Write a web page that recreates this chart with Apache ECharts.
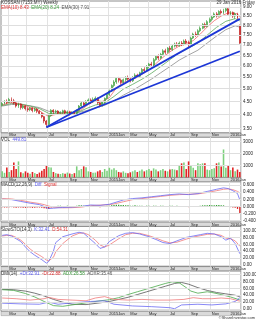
<!DOCTYPE html>
<html><head><meta charset="utf-8">
<script src="https://cdn.jsdelivr.net/npm/echarts@6/dist/echarts.min.js"></script>
<style>html,body{margin:0;padding:0;background:#fff}#c{width:256px;height:320px}</style>
</head><body><div id="c"></div>
<script>
// ---------- DATA ----------
const startWeek = '2014-02-14';   // week-ending Friday of first bar
const weekCount = 103;
const monthNames = ['Jan','Feb','Mar','Apr','May','Jun','Jul','Aug','Sep','Oct','Nov','Dec'];
const titleText = 'KOSSAN (7153.MY) Weekly';
const dateText = '29 Jan 2016 Friday';
const footerText = '\u00A9ShareInvestor.com';

// weekly [open, close, low, high]
const ohlc = [
[4.35,4.42,4.30,4.47],[4.42,4.50,4.38,4.55],[4.50,4.46,4.40,4.58],[4.46,4.58,4.44,4.64],[4.58,4.52,4.45,4.66],
[4.52,4.44,4.38,4.60],[4.44,4.32,4.26,4.48],[4.32,4.40,4.25,4.45],[4.40,4.26,4.18,4.42],[4.26,4.32,4.20,4.38],
[4.32,4.22,4.15,4.35],[4.22,4.18,4.10,4.28],[4.18,4.24,4.12,4.28],[4.24,4.15,4.08,4.27],[4.15,4.20,4.10,4.25],
[4.20,4.12,4.05,4.24],[4.12,4.04,3.98,4.16],[4.04,3.92,3.86,4.08],[3.92,3.76,3.68,3.95],[3.76,3.64,3.54,3.80],
[3.64,3.96,3.60,3.99],[3.96,4.16,3.92,4.20],[4.16,4.10,4.02,4.20],[4.10,4.13,4.05,4.18],[4.13,4.05,4.00,4.16],
[4.05,4.08,3.98,4.12],[4.08,4.14,4.02,4.18],[4.14,4.06,4.00,4.18],[4.06,4.10,4.00,4.15],[4.10,4.02,3.96,4.14],
[4.02,4.08,3.98,4.12],[4.08,4.04,3.98,4.12],[4.04,4.16,4.00,4.19],[4.16,4.32,4.10,4.36],[4.32,4.44,4.26,4.48],
[4.44,4.36,4.28,4.50],[4.36,4.50,4.32,4.55],[4.50,4.56,4.42,4.62],[4.56,4.48,4.40,4.62],[4.48,4.58,4.45,4.66],
[4.58,4.63,4.50,4.70],[4.63,4.45,4.38,4.66],[4.45,4.34,4.27,4.50],[4.34,4.48,4.30,4.52],[4.48,4.62,4.40,4.66],
[4.62,4.78,4.58,4.82],[4.78,4.92,4.72,4.98],[4.92,5.15,4.88,5.20],[5.15,5.30,5.08,5.38],[5.30,5.45,5.22,5.50],
[5.45,5.38,5.28,5.52],[5.38,5.28,5.20,5.45],[5.28,5.40,5.22,5.45],[5.40,5.48,5.32,5.55],[5.48,5.42,5.35,5.58],
[5.42,5.35,5.28,5.50],[5.35,5.50,5.30,5.55],[5.50,5.60,5.45,5.68],[5.60,5.55,5.48,5.66],[5.55,5.70,5.50,5.75],
[5.70,5.85,5.65,5.92],[5.85,5.80,5.72,5.95],[5.80,5.98,5.75,6.05],[5.98,6.10,5.90,6.15],[6.10,6.05,5.95,6.20],
[6.05,6.30,6.00,6.38],[6.30,6.45,6.25,6.52],[6.45,6.38,6.28,6.55],[6.38,6.55,6.32,6.62],[6.55,6.72,6.50,6.80],
[6.72,6.65,6.55,6.82],[6.65,6.85,6.60,6.90],[6.85,6.78,6.68,6.95],[6.78,6.95,6.72,7.05],[6.95,7.05,6.88,7.12],
[7.05,6.98,6.90,7.15],[6.98,7.10,6.92,7.18],[7.10,7.02,6.95,7.20],[7.02,7.20,6.98,7.28],[7.20,7.12,7.00,7.30],
[7.12,7.04,6.85,7.22],[7.04,7.35,7.00,7.42],[7.35,7.55,7.30,7.62],[7.55,7.48,7.40,7.68],[7.48,7.72,7.45,7.80],
[7.72,7.85,7.65,7.95],[7.85,8.05,7.80,8.12],[8.05,7.95,7.85,8.15],[7.95,8.20,7.90,8.28],[8.20,8.32,8.12,8.42],
[8.32,8.45,8.22,8.52],[8.45,8.62,8.40,8.70],[8.62,8.50,8.42,8.72],[8.50,8.75,8.48,8.82],[8.75,8.68,8.58,8.86],
[8.68,8.80,8.60,8.90],[8.80,8.90,8.70,8.98],[8.90,8.60,8.52,9.00],[8.60,8.70,8.50,8.78],[8.70,8.50,8.40,8.75],
[8.50,8.62,8.35,8.70],[8.62,8.40,8.30,8.68],[8.00,7.10,7.05,8.05]
];

const volume = [
500,380,820,450,600,1250,700,1330,420,350,
500,380,300,450,350,280,400,550,700,1000,
850,830,450,350,300,280,350,300,400,320,
280,350,920,600,700,920,850,500,450,380,
400,500,600,450,700,550,800,650,750,600,
450,400,500,380,350,420,500,600,450,550,
650,500,600,700,550,750,650,500,600,700,
550,500,650,700,650,600,1000,1170,1250,700,
1330,950,800,600,1170,1100,1170,1170,650,600,
700,750,1170,1250,900,2330,800,1000,600,820,
500,650,449.81
];

// indicator readings: [week number, value]
const ema10 = [[0,4.36],[3,4.45],[6,4.44],[9,4.36],[12,4.27],[15,4.20],[18,4.02],[20,3.93],[22,3.98],[25,4.04],[28,4.08],[31,4.07],[34,4.18],[37,4.38],[40,4.53],[43,4.50],[46,4.65],[49,5.05],[52,5.28],[55,5.38],[58,5.50],[61,5.70],[64,5.92],[67,6.22],[70,6.50],[73,6.75],[76,6.95],[79,7.08],[82,7.22],[85,7.55],[88,7.92],[91,8.25],[94,8.50],[97,8.68],[100,8.64],[101,8.62],[102,8.43]];
const ema20 = [[0,4.34],[4,4.42],[8,4.40],[12,4.32],[16,4.22],[20,4.04],[24,4.03],[28,4.05],[32,4.06],[36,4.22],[40,4.36],[44,4.44],[48,4.70],[52,5.00],[56,5.20],[60,5.42],[64,5.68],[68,5.98],[72,6.30],[76,6.62],[80,6.85],[84,7.10],[88,7.50],[92,7.90],[96,8.22],[100,8.36],[102,8.24]];
const ema30 = [[0,4.32],[4,4.38],[8,4.38],[12,4.33],[16,4.26],[20,4.12],[24,4.08],[28,4.07],[32,4.06],[36,4.14],[40,4.25],[44,4.35],[48,4.52],[52,4.75],[56,4.95],[60,5.18],[64,5.42],[68,5.70],[72,5.98],[76,6.28],[80,6.52],[84,6.75],[88,7.10],[92,7.45],[96,7.78],[100,7.98],[102,7.91]];
const trendUpper = [[19,3.54],[102,8.35]];
const trendLower = [[19,3.54],[102,6.70]];

const macdDiff = [[0,0.20],[4,0.19],[8,0.14],[12,0.09],[16,0.05],[18,0.00],[20,-0.06],[22,-0.05],[26,-0.03],[30,-0.02],[34,0.00],[38,0.04],[42,0.03],[46,0.06],[48,0.10],[52,0.18],[56,0.22],[60,0.24],[64,0.27],[68,0.30],[72,0.33],[76,0.35],[80,0.33],[84,0.36],[88,0.42],[92,0.48],[95,0.52],[97,0.50],[99,0.44],[101,0.36],[102,0.18]];
const macdSignal = [[0,0.22],[4,0.21],[8,0.17],[12,0.12],[16,0.08],[18,0.05],[20,0.01],[22,-0.02],[26,-0.04],[30,-0.035],[34,-0.02],[38,0.02],[42,0.035],[46,0.05],[48,0.07],[52,0.13],[56,0.19],[60,0.22],[64,0.25],[68,0.28],[72,0.31],[76,0.33],[80,0.34],[84,0.35],[88,0.39],[92,0.44],[95,0.48],[97,0.49],[99,0.47],[101,0.42],[102,0.38]];
const macdHist = [
-0.02,-0.03,-0.03,-0.02,-0.02,-0.03,-0.04,-0.03,-0.03,-0.04,-0.04,-0.03,-0.03,-0.04,-0.04,-0.03,-0.03,-0.04,
-0.05,-0.06,-0.07,
-0.03,-0.02,0.01,0.02,0.02,0.01,0.01,0.02,0.01,0.01,
0.01,0.02,0.03,0.03,0.02,0.02,0.01,0.01,0.02,0.01,-0.01,-0.02,-0.01,0.01,0.02,
0.02,0.03,0.04,0.05,0.05,0.04,0.04,0.03,0.03,0.02,0.02,0.03,0.02,0.02,0.02,
0.01,0.02,0.02,0.01,0.02,0.02,0.01,0.02,0.02,0.01,0.01,0.02,0.02,0.01,0.02,0.01,0.01,-0.01,-0.01,-0.02,-0.01,0.01,0.01,0.01,0.02,
0.03,0.03,0.03,0.04,0.03,0.03,0.04,0.04,0.03,0.03,
0.01,0.00,-0.02,-0.03,-0.04,-0.07,-0.20
];

const stoK = [[0,86],[2,88],[4,84],[6,76],[8,68],[10,52],[12,38],[14,28],[17,15],[19,5],[20,10],[22,40],[23,65],[26,82],[30,90],[33,95],[35,92],[37,80],[40,62],[42,48],[44,52],[46,68],[50,85],[53,92],[56,94],[59,90],[63,82],[66,74],[69,65],[72,62],[75,70],[79,80],[82,84],[85,88],[88,92],[91,90],[94,82],[96,72],[98,78],[100,62],[102,32.41]];
const stoD = [[0,84],[2,86],[4,86],[6,80],[8,72],[10,60],[12,46],[14,36],[17,24],[19,14],[20,12],[22,22],[23,38],[26,62],[30,84],[33,92],[35,93],[37,88],[40,72],[42,58],[44,52],[46,58],[50,76],[53,88],[56,92],[59,92],[63,85],[66,78],[69,70],[72,64],[75,66],[79,75],[82,81],[85,85],[88,89],[91,90],[94,86],[96,78],[98,76],[100,70],[102,54.31]];

const diPlus = [[0,17],[8,15],[16,14],[20,20],[24,14],[30,18],[38,22],[44,24],[48,14],[56,9],[64,7],[72,4],[74,1],[77,12],[84,14],[90,12],[96,15],[100,22],[102,32.91]];
const diMinus = [[0,32],[6,30],[12,26],[18,30],[20,34],[24,28],[30,26],[36,24],[40,32],[44,36],[48,28],[54,26],[60,28],[66,26],[72,26],[78,28],[82,33],[86,30],[90,30],[94,32],[98,30],[102,22.88]];
const adx = [[0,56],[5,54],[10,45],[14,35],[18,22],[22,10],[26,8],[30,12],[36,18],[42,24],[46,27],[50,33],[54,42],[58,50],[62,58],[66,66],[70,74],[73,79],[76,76],[79,62],[81,52],[84,46],[88,50],[90,48],[94,42],[98,35],[102,26.58]];
const adxr = [[0,57],[5,56],[10,52],[14,46],[18,38],[22,28],[26,20],[30,14],[36,13],[42,18],[46,22],[50,28],[54,34],[58,42],[62,50],[66,58],[70,66],[74,74],[77,77],[80,72],[84,62],[88,54],[92,48],[96,44],[100,40],[102,35.46]];

// axis tick labels
const priceTicks = [9,8.5,8,7.5,7,6.5,6,5.5,5,4.5,4,3.5];
const volTicks = [3000,2000,1000];
const macdTicks = [0.6,0.4,0.2,0,-0.2,-0.4];
const oscTicks = [100,80,60,40,20,0];

// ---------- BUILD ----------
const weeks = [];
{ const t0 = Date.parse(startWeek + 'T00:00:00Z');
  for (let i = 0; i < weekCount; i++) weeks.push(new Date(t0 + i * 7 * 86400000).toISOString().slice(0, 10)); }
const last = a => a[a.length - 1][1];
const lastClose = ohlc[ohlc.length - 1][1];
const lastVol = volume[volume.length - 1];
const sq = Math.sqrt;

const FONT = "'Liberation Sans', Arial, sans-serif";
const FS = 4.5;
const panels = [[1,132.75],[137.25,177.35],[181.85,221.95],[226.45,266.55],[271.05,311.15]];
const BAND = 4.5, GL = 1, GR = 15, W = 256;

const mon = s => +s.slice(5, 7);
const isTick = i => i > 0 && mon(weeks[i]) !== mon(weeks[i-1]) && mon(weeks[i]) % 2 === 1;
const fmtX = v => mon(v) === 1 ? v.slice(0, 4) + 'Jan' : monthNames[mon(v) - 1];

const grids = panels.map(([t,b]) => ({left:GL, right:GR, top:t, height:b - t, show:true,
  borderColor:'#8c8c8c', borderWidth:1, backgroundColor:'#fff'}));
const xAxes = panels.map((p,i) => ({type:'category', gridIndex:i, data:weeks, boundaryGap:true,
  axisLine:{show:false}, axisTick:{show:false},
  axisLabel:{interval:(idx) => isTick(idx), formatter:fmtX, fontSize:4, fontFamily:FONT, color:'#222', margin:0.6, align:'left'},
  splitLine:{show:true, interval:(idx) => isTick(idx), lineStyle:{color:'#e2e2e2', width:1}}}));
const yRanges = [[sq(3.349), sq(9.338)], [0, 3350], [-0.435, 0.688], [-5, 112], [-6, 110]];
const yAxes = yRanges.map(([mn,mx],i) => ({type:'value', gridIndex:i, min:mn, max:mx, position:'right', scale:true,
  axisLabel:{show:false}, axisLine:{show:false}, axisTick:{show:false}, splitLine:{show:false}}));

function tickSeries(i, ticks, toAxis, fmt) {
  return {type:'line', xAxisIndex:i, yAxisIndex:i, data:[], z:1, silent:true,
    markLine:{silent:true, symbol:'none', animation:false,
      lineStyle:{color:'#dedede', width:1, type:'solid'},
      label:{position:'end', distance:2, fontSize:FS, fontFamily:FONT, color:'#222', formatter:p => p.name},
      data:ticks.map(v => ({yAxis:toAxis(v), name:fmt(v)}))}};
}
function tagSeries(i, val, toAxis, text, bg, fg, border) {
  return {type:'line', xAxisIndex:i, yAxisIndex:i, data:[], z:10, silent:true,
    markLine:{silent:true, symbol:'none', animation:false, lineStyle:{opacity:0},
      label:{position:'end', distance:1, fontSize:FS, fontFamily:FONT, color:fg, backgroundColor:bg,
        borderColor:border, borderWidth:0.5, padding:[0.5,1,0,1], formatter:text},
      data:[{yAxis:toAxis(val)}]}};
}
const line = (i, pts, color, width, tf, z) => ({type:'line', xAxisIndex:i, yAxisIndex:i, showSymbol:false, silent:true,
  z:z || 3, data:pts.map(([w,v]) => [weeks[w], tf ? tf(v) : v]), lineStyle:{color, width}});

const UP = '#7dd07d', DN = '#e02424';
const series = [
  tickSeries(0, priceTicks, sq, v => v.toFixed(2)),
  tickSeries(1, volTicks, v => v, v => String(v)),
  tickSeries(2, macdTicks, v => v, v => v.toFixed(3)),
  tickSeries(3, oscTicks, v => v, v => v.toFixed(2)),
  tickSeries(4, oscTicks, v => v, v => v.toFixed(2)),
  line(0, ema30, '#8c8c8c', 0.8, sq, 2),
  line(0, ema20, '#5aa85a', 0.8, sq, 2),
  line(0, ema10, '#ef6a6a', 0.8, sq, 2),
  {type:'candlestick', xAxisIndex:0, yAxisIndex:0, z:4, barWidth:'62%', silent:true,
    data:ohlc.map(d => d.map(sq)),
    itemStyle:{color:UP, color0:DN, borderColor:'#2f952f', borderColor0:'#b81010', borderWidth:0.6}},
  line(0, trendUpper, '#1c36d6', 1.8, sq, 5),
  line(0, trendLower, '#1c36d6', 1.8, sq, 5),
  tagSeries(0, lastClose, sq, lastClose.toFixed(2), '#ec8a8a', '#fff', '#c23030'),
  {type:'bar', xAxisIndex:1, yAxisIndex:1, barWidth:'68%', silent:true, z:3,
    data:volume.map((v,i) => ({value:v, itemStyle:{color: ohlc[i][1] >= ohlc[i][0] ? UP : DN}}))},
  tagSeries(1, lastVol, v => v, lastVol.toFixed(2), '#f4f400', '#333', '#aaa'),
  {type:'bar', xAxisIndex:2, yAxisIndex:2, barWidth:'55%', silent:true, z:3,
    data:macdHist.map(v => ({value:v, itemStyle:{color: v >= 0 ? '#2fa02f' : '#d82020'}}))},
  line(2, macdSignal, '#f07a7a', 0.8),
  line(2, macdDiff, '#6a6af2', 0.8),
  line(3, stoD, '#f07a7a', 0.8),
  line(3, stoK, '#6a6af2', 0.8),
  line(4, adxr, '#555555', 0.8),
  line(4, adx, '#4aa84a', 0.8),
  line(4, diMinus, '#f07a7a', 0.8),
  line(4, diPlus, '#6a6af2', 0.8)
];

const ts = (extra) => Object.assign({fontSize:FS, fontFamily:FONT, fontWeight:'normal', color:'#333'}, extra || {});
const rich = {
  r:ts({color:'#e03030'}), g:ts({color:'#3a9a3a'}), k:ts({color:'#555'}), b:ts({color:'#5a5af0'}), n:ts()
};
const title = [
  {left:GL, top:0, padding:0, text:titleText, textStyle:ts()},
  {right:1, top:0, padding:0, text:dateText, textStyle:ts()},
  {left:GL, top:5, padding:0, text:`{r|EMA(10) ${last(ema10).toFixed(2)}}  {g|EMA(20) ${last(ema20).toFixed(2)}}  {k|EMA(30) ${last(ema30).toFixed(2)}}`, textStyle:ts({rich})},
  {left:GL, top:panels[1][0] + 0.5, padding:0, text:`{n|VOL}  {b|${lastVol.toFixed(2)}}`, textStyle:ts({rich})},
  {left:GL, top:panels[2][0] + 0.5, padding:0, text:`{n|MACD(12,26,9)}  {b|Diff}  {r|Signal}`, textStyle:ts({rich})},
  {left:GL, top:panels[3][0] + 0.5, padding:0, text:`{n|SlowSTO(14,3)}  {b|K:${last(stoK).toFixed(2)}}  {r|D:${last(stoD).toFixed(2)}}`, textStyle:ts({rich})},
  {left:GL, top:panels[4][0] + 0.5, padding:0, text:`{n|DMI(14)}  {b|+DI:${last(diPlus).toFixed(2)}}  {r|-DI:${last(diMinus).toFixed(2)}}  {g|ADX:${last(adx).toFixed(2)}}  {k|ADXR:${last(adxr).toFixed(2)}}`, textStyle:ts({rich})},
  {right:1, top:panels[4][1] + BAND + 0.5, padding:0, text:footerText, textStyle:ts({fontSize:4})}
];
const graphic = panels.map(([t,b]) => ({type:'rect', z:-1, silent:true,
  shape:{x:GL, y:b, width:W - GL - GR, height:BAND},
  style:{fill:'#dadada', stroke:'#9a9a9a', lineWidth:0.5}}));

const chart = echarts.init(document.getElementById('c'), null, {renderer:'canvas', width:256, height:320});
chart.setOption({animation:false, backgroundColor:'#fff', title, grid:grids, xAxis:xAxes, yAxis:yAxes, series, graphic});
</script></body></html>
